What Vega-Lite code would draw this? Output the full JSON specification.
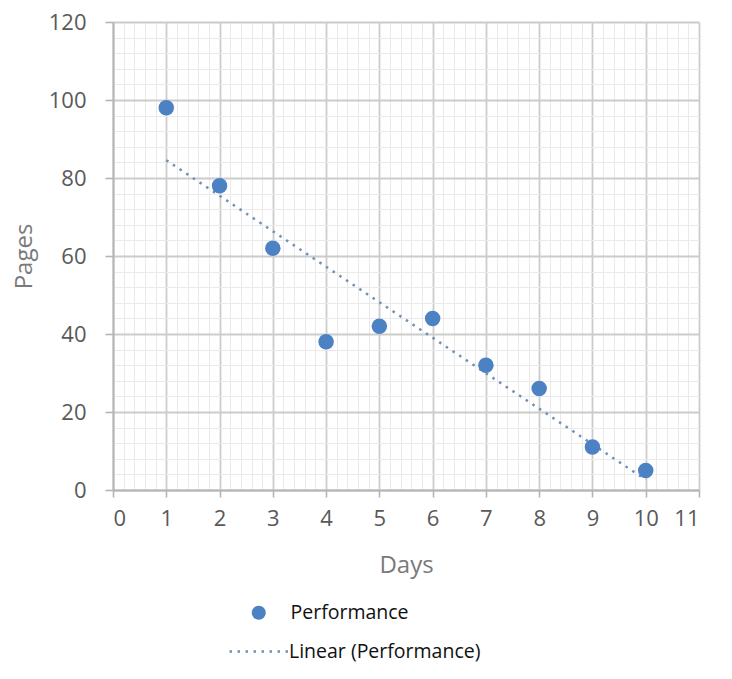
{
  "$schema": "https://vega.github.io/schema/vega-lite/v6.json",
  "autosize": {"type": "none"},
  "padding": {"left": 113, "top": 22, "right": 33, "bottom": 189},
  "width": 586,
  "height": 468,
  "background": "#ffffff",
  "config": {
    "view": {"stroke": null},
    "font": "Open Sans",
    "axis": {"labelFont": "Open Sans", "titleFont": "Open Sans"},
    "legend": {"labelFont": "Open Sans", "labelLimit": 0}
  },
  "data": {
    "values": [
      {"day": 1, "pages": 98},
      {"day": 2, "pages": 78},
      {"day": 3, "pages": 62},
      {"day": 4, "pages": 38},
      {"day": 5, "pages": 42},
      {"day": 6, "pages": 44},
      {"day": 7, "pages": 32},
      {"day": 8, "pages": 26},
      {"day": 9, "pages": 11},
      {"day": 10, "pages": 5}
    ]
  },
  "resolve": {"axis": {"x": "independent", "y": "independent"}},
  "layer": [
    {
      "mark": {"type": "point", "opacity": 0},
      "encoding": {
        "x": {
          "field": "day", "type": "quantitative",
          "scale": {"domain": [0, 11], "nice": false, "zero": false},
          "axis": {
            "orient": "bottom", "title": null, "labels": false, "ticks": false, "domain": false,
            "grid": true, "gridColor": "#eaeaea", "gridWidth": 1,
            "values": [0.2,0.4,0.6,0.8,1.2,1.4,1.6,1.8,2.2,2.4,2.6,2.8,3.2,3.4,3.6,3.8,4.2,4.4,4.6,4.8,5.2,5.4,5.6,5.8,6.2,6.4,6.6,6.8,7.2,7.4,7.6,7.8,8.2,8.4,8.6,8.8,9.2,9.4,9.6,9.8,10.2,10.4,10.6,10.8]
          }
        },
        "y": {
          "field": "pages", "type": "quantitative",
          "scale": {"domain": [0, 120], "nice": false},
          "axis": {
            "orient": "left", "title": null, "labels": false, "ticks": false, "domain": false,
            "grid": true, "gridColor": "#eaeaea", "gridWidth": 1,
            "values": [4,8,12,16,24,28,32,36,44,48,52,56,64,68,72,76,84,88,92,96,104,108,112,116]
          }
        }
      }
    },
    {
      "transform": [{"regression": "pages", "on": "day", "method": "linear"}],
      "mark": {"type": "line", "stroke": "#7090b6", "strokeWidth": 2.5, "strokeCap": "butt"},
      "encoding": {
        "x": {
          "field": "day", "type": "quantitative",
          "axis": {
            "orient": "bottom", "title": "Days", "values": [0,1,2,3,4,5,6,7,8,9,10,11],
            "grid": true, "gridColor": "#cccccc", "gridWidth": 1.8,
            "domainColor": "#b5b5b5", "domainWidth": 2,
            "tickColor": "#b5b5b5", "tickWidth": 1.6, "tickSize": 7,
            "labelFontSize": 22, "labelColor": "#595959", "labelPadding": 11,
            "titleFontSize": 24, "titleFontWeight": "normal", "titleColor": "#7a7a7a", "titlePadding": 24
          }
        },
        "y": {
          "field": "pages", "type": "quantitative",
          "axis": {
            "orient": "left", "title": "Pages", "values": [0,20,40,60,80,100,120],
            "grid": true, "gridColor": "#cccccc", "gridWidth": 1.8,
            "domainColor": "#b5b5b5", "domainWidth": 2,
            "tickColor": "#b5b5b5", "tickWidth": 1.6, "tickSize": 8,
            "labelFontSize": 22, "labelColor": "#595959", "labelPadding": 19,
            "titleFontSize": 24, "titleFontWeight": "normal", "titleColor": "#7a7a7a", "titlePadding": 12
          }
        },
        "strokeDash": {
          "datum": "Linear (Performance)",
          "scale": {"range": [[2.5, 5.5]]},
          "legend": {
            "title": null, "orient": "none", "legendX": 115, "legendY": 598,
            "symbolType": "stroke", "symbolSize": 3600, "symbolStrokeWidth": 2.5,
            "symbolStrokeColor": "#7090b6",
            "labelFontSize": 19.5, "labelColor": "#111111", "labelOffset": -2
          }
        }
      }
    },
    {
      "mark": {"type": "circle", "size": 240, "opacity": 1},
      "encoding": {
        "x": {"field": "day", "type": "quantitative", "axis": null},
        "y": {"field": "pages", "type": "quantitative", "axis": null},
        "color": {
          "datum": "Performance",
          "scale": {"range": ["#4c82c3"]},
          "legend": {
            "title": null, "orient": "none", "legendX": 136, "legendY": 581,
            "symbolType": "circle", "symbolSize": 200, "symbolOpacity": 1,
            "labelFontSize": 19.5, "labelColor": "#111111", "labelOffset": 22
          }
        }
      }
    }
  ]
}
